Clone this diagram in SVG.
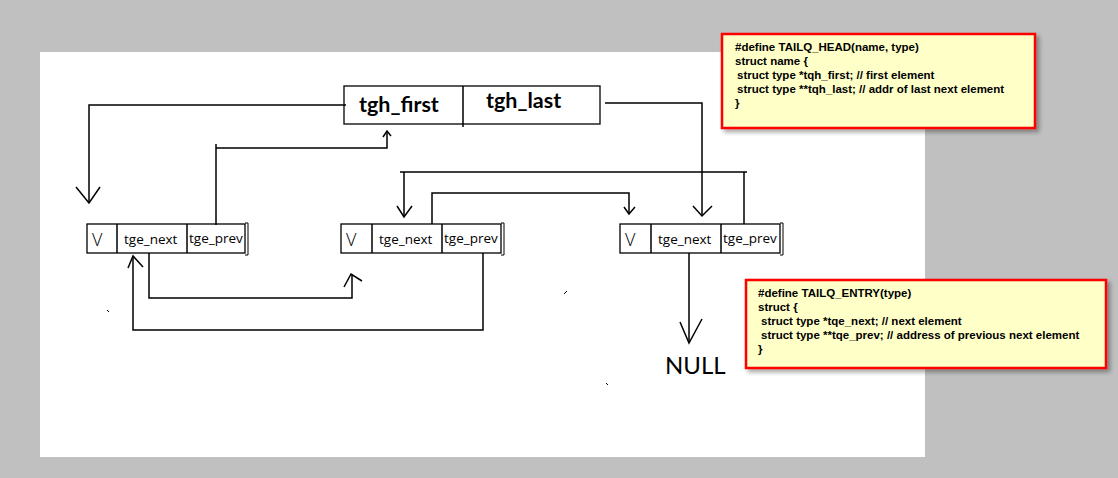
<svg xmlns="http://www.w3.org/2000/svg" width="1118" height="478" viewBox="0 0 1118 478">
<style>
.ln{fill:none;stroke:#000;stroke-width:1.5}
.bx{fill:#fff;stroke:#000;stroke-width:1.3}
.br{fill:none;stroke:#000;stroke-width:1}
.hd{font-family:Lato,"Open Sans","Liberation Sans",sans-serif;font-weight:bold;font-size:21.5px;fill:#000}
.cell{font-family:"Open Sans","Liberation Sans",sans-serif;font-size:13.5px;fill:#000}
.vv{font-family:"Open Sans","Liberation Sans",sans-serif;font-size:18px;font-weight:300;fill:#000}
.note{fill:#ffffc8;stroke:#ff0000;stroke-width:2.5}
.nt{font-family:"Liberation Sans",Arial,sans-serif;font-weight:bold;font-size:11.5px;fill:#000}
</style>
<defs>
<filter id="sh" x="-5%" y="-5%" width="115%" height="125%"><feDropShadow dx="3" dy="3" stdDeviation="2" flood-color="#000" flood-opacity="0.35"/></filter>
</defs>
<rect x="0" y="0" width="1118" height="478" fill="#c0c0c0"/>
<rect x="40" y="52" width="885" height="405" fill="#fff"/>

<g id="head">
<rect class="bx" x="344" y="86" width="256" height="38"/>
<line class="ln" x1="463" y1="86" x2="463" y2="127"/>
<text class="hd" x="359" y="112">tgh_first</text>
<text class="hd" x="486" y="108">tgh_last</text>
</g>

<g id="node1">
<rect class="bx" x="87" y="224" width="158" height="29"/>
<line class="ln" x1="117" y1="224" x2="117" y2="253"/>
<line class="ln" x1="187" y1="224" x2="187" y2="253"/>
<path class="br" d="M245 223h3v32h-3"/>
<text class="vv" x="92" y="246">V</text>
<text class="cell" x="124" y="244">tge_next</text>
<text class="cell" x="189" y="243">tge_prev</text>
</g>

<g id="node2">
<rect class="bx" x="341" y="224" width="160" height="29"/>
<line class="ln" x1="372" y1="224" x2="372" y2="253"/>
<line class="ln" x1="442" y1="224" x2="442" y2="253"/>
<path class="br" d="M501 223h3v32h-3"/>
<text class="vv" x="346" y="246">V</text>
<text class="cell" x="379" y="244">tge_next</text>
<text class="cell" x="444" y="243">tge_prev</text>
</g>

<g id="node3">
<rect class="bx" x="620" y="224" width="160" height="29"/>
<line class="ln" x1="651" y1="224" x2="651" y2="253"/>
<line class="ln" x1="721" y1="224" x2="721" y2="253"/>
<path class="br" d="M780 223h3v32h-3"/>
<text class="vv" x="625" y="246">V</text>
<text class="cell" x="658" y="244">tge_next</text>
<text class="cell" x="723" y="243">tge_prev</text>
</g>

<g id="null">
<text x="665" y="374" font-family="Lato,'Open Sans','Liberation Sans',sans-serif" font-size="24" fill="#000">NULL</text>
</g>

<g id="connectors">
<path class="ln" d="M346 105H89V203"/>
<path class="ln" d="M76 187L89 203L100 187"/>
<path class="ln" d="M216 225V144M216 148H387V131"/>
<path class="ln" d="M383 137L387 131L391 136"/>
<path class="ln" d="M605 103H702V216"/>
<path class="ln" d="M693 206L702 216L712 206"/>
<path class="ln" d="M744 224V172M747 172H400M404 172V217"/>
<path class="ln" d="M397 206L404 217L412 206"/>
<path class="ln" d="M432 224V193H629V214"/>
<path class="ln" d="M624 207L629 214L635 207"/>
<path class="ln" d="M149 253V298H352V274"/>
<path class="ln" d="M344 287L351 274L362 281"/>
<path class="ln" d="M483 253V330H133V256"/>
<path class="ln" d="M128 268L133 256L143 267"/>
<path class="ln" d="M689 253V343"/>
<path class="ln" d="M680 322L689 343L702 319"/>
</g>

<g id="strays" stroke="#000" stroke-width="1">
<line x1="107" y1="310" x2="109" y2="312"/>
<line x1="564" y1="294" x2="567" y2="291"/>
<line x1="606" y1="383" x2="608" y2="385"/>
</g>

<g id="note-head">
<rect class="note" x="722" y="34" width="313" height="94" filter="url(#sh)"/>
<text class="nt" x="735" y="51">#define TAILQ_HEAD(name, type)</text>
<text class="nt" x="735" y="65">struct name {</text>
<text class="nt" x="737" y="79">struct type *tqh_first; // first element</text>
<text class="nt" x="737" y="93">struct type **tqh_last; // addr of last next element</text>
<text class="nt" x="735" y="107">}</text>
</g>

<g id="note-entry">
<rect class="note" x="746" y="280" width="360" height="88" filter="url(#sh)"/>
<text class="nt" x="758" y="297">#define TAILQ_ENTRY(type)</text>
<text class="nt" x="758" y="311">struct {</text>
<text class="nt" x="761" y="325">struct type *tqe_next; // next element</text>
<text class="nt" x="761" y="339">struct type **tqe_prev; // address of previous next element</text>
<text class="nt" x="758" y="353">}</text>
</g>
</svg>
